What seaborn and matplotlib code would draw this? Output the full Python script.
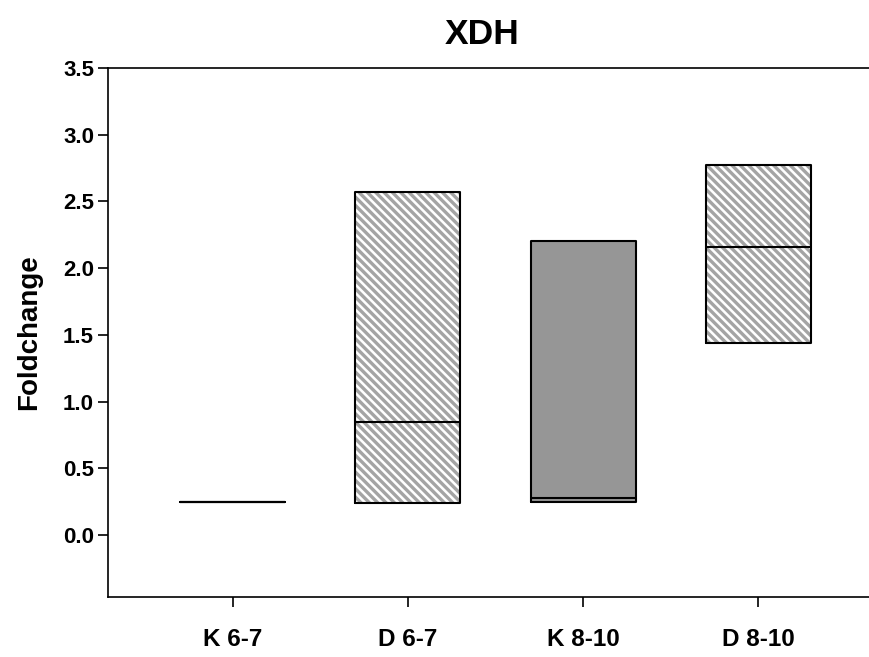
import numpy as np
import pandas as pd
import seaborn as sns
import matplotlib
matplotlib.use("Agg")
import matplotlib.pyplot as plt

# Group summaries: minimum, median, maximum fold change
groups = ["K 6-7", "D 6-7", "K 8-10", "D 8-10"]
mins = [0.25, 0.24, 0.25, 1.44]
medians = [0.25, 0.85, 0.28, 2.16]
maxs = [0.25, 2.57, 2.20, 2.77]
fills = ["white", "white", "#969696", "white"]
hatched = [False, True, False, True]

# Five values per group so the box spans min..max with the median inside
rows = []
for g, lo, md, hi in zip(groups, mins, medians, maxs):
    for v in (lo, lo, md, hi, hi):
        rows.append({"group": g, "value": v})
df = pd.DataFrame(rows)

sns.set_theme(style="ticks")
plt.rcParams["font.family"] = ["Liberation Sans", "DejaVu Sans"]
plt.rcParams["hatch.linewidth"] = 2.4
plt.rcParams["text.color"] = "black"
plt.rcParams["axes.labelcolor"] = "black"
plt.rcParams["xtick.color"] = "black"
plt.rcParams["ytick.color"] = "black"

fig = plt.figure(figsize=(8.69, 6.57), dpi=100)
ax = fig.add_axes([108 / 869, 1 - 597 / 657, 1 - 108 / 869, (597 - 68) / 657])

# Fill layer (with hatching on selected groups)
sns.boxplot(data=df, x="group", y="value", hue="group", order=groups,
            palette=dict(zip(groups, fills)), legend=False, width=0.6,
            whis=(0, 100), showcaps=False, showfliers=False,
            linewidth=0, ax=ax)
box_patches = [p for p in ax.patches]
for p, h in zip(box_patches, hatched):
    if h:
        p.set_edgecolor("#a4a4a4")
        p.set_hatch("\\\\\\\\")
    else:
        p.set_edgecolor("none")
    p.set_linewidth(0)

# Outline layer: box edges and medians in black
sns.boxplot(data=df, x="group", y="value", order=groups, fill=False,
            color="black", width=0.6, whis=(0, 100), showcaps=False,
            showfliers=False, linewidth=1.5, ax=ax)

ax.set_ylim(-0.465, 3.5)
ax.set_xlim(-0.714, 3.634)
yticks = [0.0, 0.5, 1.0, 1.5, 2.0, 2.5, 3.0, 3.5]
ax.set_yticks(yticks)
ax.set_yticklabels([f"{t:.1f}" for t in yticks])

for side in ("left", "top", "bottom"):
    ax.spines[side].set_visible(True)
    ax.spines[side].set_linewidth(1.2)
    ax.spines[side].set_color("black")
ax.spines["right"].set_visible(False)

ax.tick_params(axis="both", direction="out", length=7, width=1.2, color="black")
ax.tick_params(axis="y", labelsize=16, pad=3)
ax.tick_params(axis="x", labelsize=17.5, pad=15)
for lab in ax.get_xticklabels() + ax.get_yticklabels():
    lab.set_fontweight("bold")

ax.set_xlabel("")
ax.set_ylabel("Foldchange", fontsize=20, fontweight="bold", labelpad=15)
fig.text(482 / 869, 1 - 35 / 657, "XDH", ha="center", va="center",
         fontsize=25.5, fontweight="bold")

fig.savefig("out.png", dpi=100)
